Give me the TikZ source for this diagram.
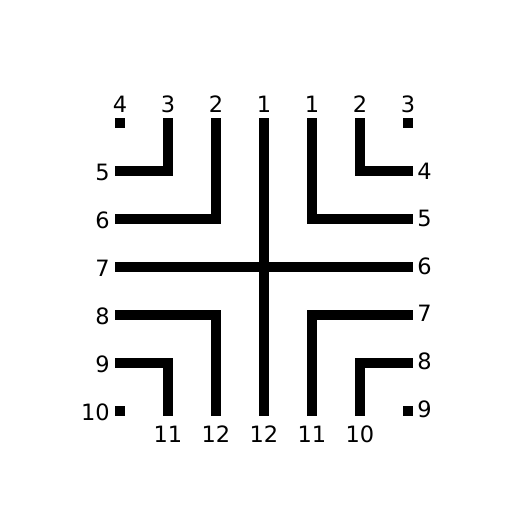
\documentclass[tikz,border=0pt]{standalone}
\usepackage{fontspec}
\setmainfont{DejaVu Sans}
\begin{document}
\begin{tikzpicture}[x=0.02cm,y=-0.02cm,
  bar/.style={line width=10*0.02cm, line cap=rect, line join=miter},
  lbl/.style={inner sep=0pt, font=\fontsize{12.8}{14}\selectfont},
  toplbl/.style={lbl, anchor=center},
  leftlbl/.style={lbl, anchor=east},
  rightlbl/.style={lbl, anchor=west},
  botlbl/.style={lbl, anchor=center}]
\useasboundingbox (0,0) rectangle (532,532);
% coordinates
\foreach \i/\x in {1/120,2/168,3/216,4/264,5/312,6/360,7/408}{
  \foreach \j/\y in {1/123,2/171,3/219,4/267,5/315,6/363,7/411}{
    \coordinate (p\i\j) at (\x,\y);
  }
}
% top-left
\fill (115,118) rectangle (125,128);
\draw[bar] (p21) -- (p22) -- (p12);
\draw[bar] (p31) -- (p33) -- (p13);
% cross
\draw[bar] (p41) -- (p47);
\draw[bar] (p14) -- (p74);
% top-right
\draw[bar] (p51) -- (p53) -- (p73);
\draw[bar] (p61) -- (p62) -- (p72);
\fill (403,118) rectangle (413,128);
% bottom-left
\draw[bar] (p15) -- (p35) -- (p37);
\draw[bar] (p16) -- (p26) -- (p27);
\fill (115,406) rectangle (125,416);
% bottom-right
\draw[bar] (p75) -- (p55) -- (p57);
\draw[bar] (p76) -- (p66) -- (p67);
\fill (403,406) rectangle (413,416);
% top labels
\node[toplbl] (t4) at (120,104) {4};
\node[toplbl] (t3) at (168,104) {3};
\node[toplbl] (t2) at (216,104) {2};
\node[toplbl] (t1) at (264,104) {1};
\node[toplbl] (t1b) at (312,104) {1};
\node[toplbl] (t2b) at (360,104) {2};
\node[toplbl] (t3b) at (408,104) {3};
% left labels
\node[leftlbl] (l5) at (110,172) {5};
\node[leftlbl] (l6) at (110,220) {6};
\node[leftlbl] (l7) at (110,268) {7};
\node[leftlbl] (l8) at (110,316) {8};
\node[leftlbl] (l9) at (110,364) {9};
\node[leftlbl] (l10) at (110,412) {10};
% right labels
\node[rightlbl] (r4) at (417,171) {4};
\node[rightlbl] (r5) at (417,218) {5};
\node[rightlbl] (r6) at (417,266) {6};
\node[rightlbl] (r7) at (417,313) {7};
\node[rightlbl] (r8) at (417,361) {8};
\node[rightlbl] (r9) at (417,409) {9};
% bottom labels
\node[botlbl] (b11) at (168,434) {11};
\node[botlbl] (b12) at (216,434) {12};
\node[botlbl] (b12b) at (264,434) {12};
\node[botlbl] (b11b) at (312,434) {11};
\node[botlbl] (b10) at (360,434) {10};
\end{tikzpicture}
\end{document}
